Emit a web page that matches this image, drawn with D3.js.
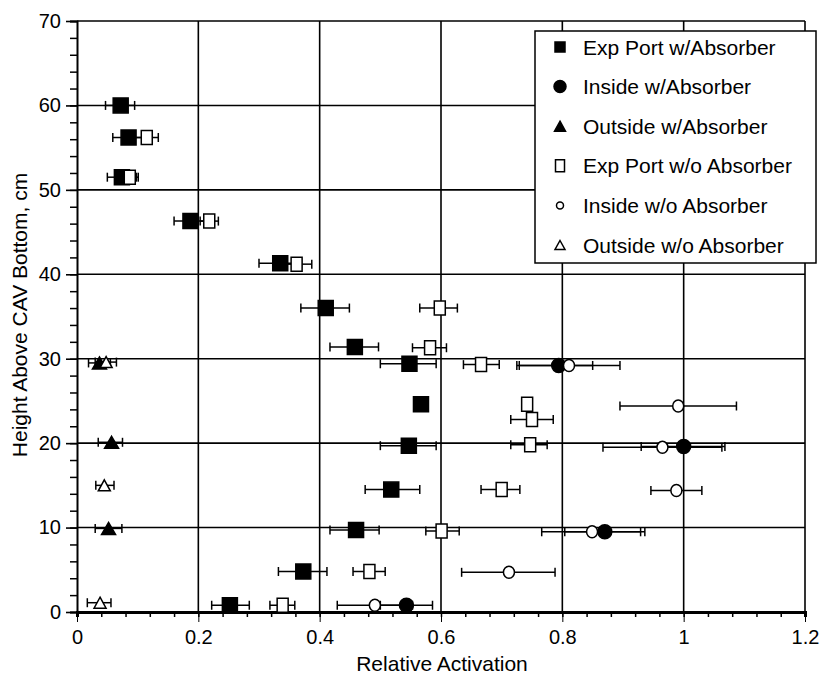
<!DOCTYPE html>
<html>
<head>
<meta charset="utf-8">
<script src="https://cdn.jsdelivr.net/npm/d3@7"></script>
<style>
  body { margin: 0; background: #fff; }
  svg { font-family: "Liberation Sans", Arial, Helvetica, sans-serif; }
</style>
</head>
<body>
<div id="chart"></div>
<script>
// data: [height, activation, errLow, errHigh]
const expPortWith = [
  [60, 0.072, 0.047, 0.095],
  [56.2, 0.085, 0.059, 0.11],
  [51.5, 0.074, 0.05, 0.098],
  [46.3, 0.187, 0.16, 0.215],
  [41.3, 0.335, 0.30, 0.37],
  [36, 0.41, 0.369, 0.449],
  [31.4, 0.458, 0.417, 0.497],
  [29.4, 0.548, 0.50, 0.592],
  [24.6, 0.567, 0.567, 0.567],
  [19.7, 0.547, 0.50, 0.592],
  [14.5, 0.518, 0.475, 0.565],
  [9.7, 0.46, 0.417, 0.498],
  [4.8, 0.373, 0.332, 0.412],
  [0.8, 0.252, 0.222, 0.284]
]
const insideWith = [
  [29.2, 0.794, 0.729, 0.85],
  [19.6, 1.0, 0.93, 1.068],
  [9.5, 0.87, 0.804, 0.936],
  [0.8, 0.543, 0.50, 0.586]
]
const outsideWith = [
  [29.5, 0.037, 0.019, 0.055],
  [20.1, 0.057, 0.035, 0.075],
  [9.9, 0.052, 0.03, 0.074]
]
const expPortWithout = [
  [56.2, 0.115, 0.096, 0.134],
  [51.5, 0.087, 0.075, 0.101],
  [46.3, 0.218, 0.203, 0.233],
  [41.2, 0.362, 0.337, 0.387],
  [36, 0.598, 0.565, 0.627],
  [31.3, 0.582, 0.553, 0.609],
  [29.3, 0.666, 0.637, 0.696],
  [24.6, 0.742, 0.742, 0.742],
  [22.8, 0.75, 0.715, 0.785],
  [19.8, 0.747, 0.715, 0.775],
  [14.5, 0.70, 0.666, 0.73],
  [9.6, 0.601, 0.575, 0.63],
  [4.8, 0.482, 0.455, 0.508],
  [0.8, 0.339, 0.318, 0.359]
]
const insideWithout = [
  [29.2, 0.811, 0.725, 0.895],
  [24.4, 0.991, 0.895, 1.087],
  [19.5, 0.965, 0.867, 1.063],
  [14.4, 0.988, 0.946, 1.03],
  [9.5, 0.849, 0.766, 0.929],
  [4.7, 0.712, 0.634, 0.788],
  [0.8, 0.491, 0.429, 0.553]
]
const outsideWithout = [
  [29.6, 0.048, 0.03, 0.065],
  [15.0, 0.045, 0.031, 0.061],
  [1.1, 0.038, 0.017, 0.056]
]

const seriesNames = ["Exp Port w/Absorber", "Inside w/Absorber", "Outside w/Absorber",
  "Exp Port w/o Absorber", "Inside w/o Absorber", "Outside w/o Absorber"]
const xTicks = [0, 0.2, 0.4, 0.6, 0.8, 1, 1.2]
const yTicks = [0, 10, 20, 30, 40, 50, 60, 70]

// marker shapes (path strings centred on 0,0)
const rect = (w, h) => `M${-w/2},${-h/2}h${w}v${h}h${-w}Z`
const ell = (rx, ry) => `M${-rx},0a${rx},${ry} 0 1,0 ${2*rx},0a${rx},${ry} 0 1,0 ${-2*rx},0Z`
const tri = (w, h) => `M0,${-h/2}L${w/2},${h/2}L${-w/2},${h/2}Z`

const series = [
  { data: expPortWith, filled: true, shape: rect(15, 15), legend: rect(10, 10) },
  { data: insideWith, filled: true, shape: ell(7, 7), legend: ell(6, 6) },
  { data: outsideWith, filled: true, shape: tri(14, 12), legend: tri(11, 10) },
  { data: expPortWithout, filled: false, shape: rect(11, 14), legend: rect(9, 12) },
  { data: insideWithout, filled: false, shape: ell(5.5, 6), legend: ell(3.5, 3.5) },
  { data: outsideWithout, filled: false, shape: tri(12, 11), legend: tri(10, 9) }
]

const W = 821, H = 675
const svg = d3.select("#chart").append("svg")
  .attr("width", W).attr("height", H)

const x = d3.scaleLinear().domain([0, 1.2]).range([77, 805])
const y = d3.scaleLinear().domain([0, 70]).range([612, 21])

// grid
svg.append("g").selectAll("line")
  .data(xTicks.slice(1))
  .join("line")
  .attr("x1", d => x(d)).attr("x2", d => x(d))
  .attr("y1", y(0)).attr("y2", y(70))
  .attr("stroke", "#000").attr("stroke-width", 1.6)
svg.append("g").selectAll("line")
  .data(yTicks.slice(1))
  .join("line")
  .attr("x1", x(0)).attr("x2", x(1.2))
  .attr("y1", d => y(d)).attr("y2", d => y(d))
  .attr("stroke", "#000").attr("stroke-width", 1.6)

// axes
const xAxis = svg.append("g")
  .attr("transform", `translate(0,${y(0)})`)
  .call(d3.axisBottom(x).tickValues(d3.range(0, 1.2001, 0.04)).tickSize(5).tickFormat(""))
xAxis.select(".domain").attr("stroke-width", 3)
svg.append("g")
  .attr("transform", `translate(0,${y(0)})`)
  .call(d3.axisBottom(x).tickValues(xTicks).tickSize(10).tickPadding(8).tickFormat(d3.format("~g")))
  .call(g => g.select(".domain").remove())
  .selectAll("text").attr("font-size", 20).attr("fill", "#000").attr("font-family", null)
xAxis.selectAll("line").attr("stroke-width", 1.5)

const yAxis = svg.append("g")
  .attr("transform", `translate(${x(0)},0)`)
  .call(d3.axisLeft(y).tickValues(d3.range(0, 70.01, 2)).tickSize(7).tickFormat(""))
yAxis.select(".domain").attr("stroke-width", 2)
yAxis.selectAll("line").attr("stroke-width", 1.5)
svg.append("g")
  .attr("transform", `translate(${x(0)},0)`)
  .call(d3.axisLeft(y).tickValues(yTicks).tickSize(11).tickPadding(5))
  .call(g => g.select(".domain").remove())
  .call(g => g.selectAll("line").attr("stroke-width", 1.6))
  .selectAll("text").attr("font-size", 20).attr("fill", "#000").attr("font-family", null)

// axis titles
svg.append("text")
  .attr("x", 442).attr("y", 671)
  .attr("text-anchor", "middle").attr("font-size", 21)
  .text("Relative Activation")
svg.append("text")
  .attr("transform", "translate(27,315) rotate(-90)")
  .attr("text-anchor", "middle").attr("font-size", 21)
  .text("Height Above CAV Bottom, cm")

// error bars
const plot = svg.append("g")
series.forEach(s => {
  const eb = plot.append("g").attr("stroke", "#000").attr("stroke-width", 1.5)
  const withErr = s.data.filter(d => d[3] > d[2])
  eb.selectAll(".bar").data(withErr).join("line")
    .attr("x1", d => x(d[2])).attr("x2", d => x(d[3]))
    .attr("y1", d => y(d[0])).attr("y2", d => y(d[0]))
  eb.selectAll(".capL").data(withErr).join("line")
    .attr("x1", d => x(d[2])).attr("x2", d => x(d[2]))
    .attr("y1", d => y(d[0]) - 4.5).attr("y2", d => y(d[0]) + 4.5)
  eb.selectAll(".capR").data(withErr).join("line")
    .attr("x1", d => x(d[3])).attr("x2", d => x(d[3]))
    .attr("y1", d => y(d[0]) - 4.5).attr("y2", d => y(d[0]) + 4.5)
})

// markers
series.forEach(s => {
  plot.append("g").selectAll("path").data(s.data).join("path")
    .attr("transform", d => `translate(${x(d[1])},${y(d[0])})`)
    .attr("d", s.shape)
    .attr("fill", s.filled ? "#000" : "#fff")
    .attr("stroke", "#000").attr("stroke-width", 1.5)
})

// legend
const legend = svg.append("g")
legend.append("rect")
  .attr("x", 535).attr("y", 31).attr("width", 281).attr("height", 232)
  .attr("fill", "#fff").attr("stroke", "#000").attr("stroke-width", 1.5)
const items = legend.selectAll(".item").data(series).join("g")
  .attr("transform", (d, i) => `translate(560,${47 + i * 39.6})`)
items.append("path")
  .attr("d", d => d.legend)
  .attr("fill", d => d.filled ? "#000" : "#fff")
  .attr("stroke", "#000").attr("stroke-width", 1.5)
items.append("text")
  .attr("x", 23).attr("y", 7.5)
  .attr("font-size", 21)
  .text((d, i) => seriesNames[i])
</script>
</body>
</html>
